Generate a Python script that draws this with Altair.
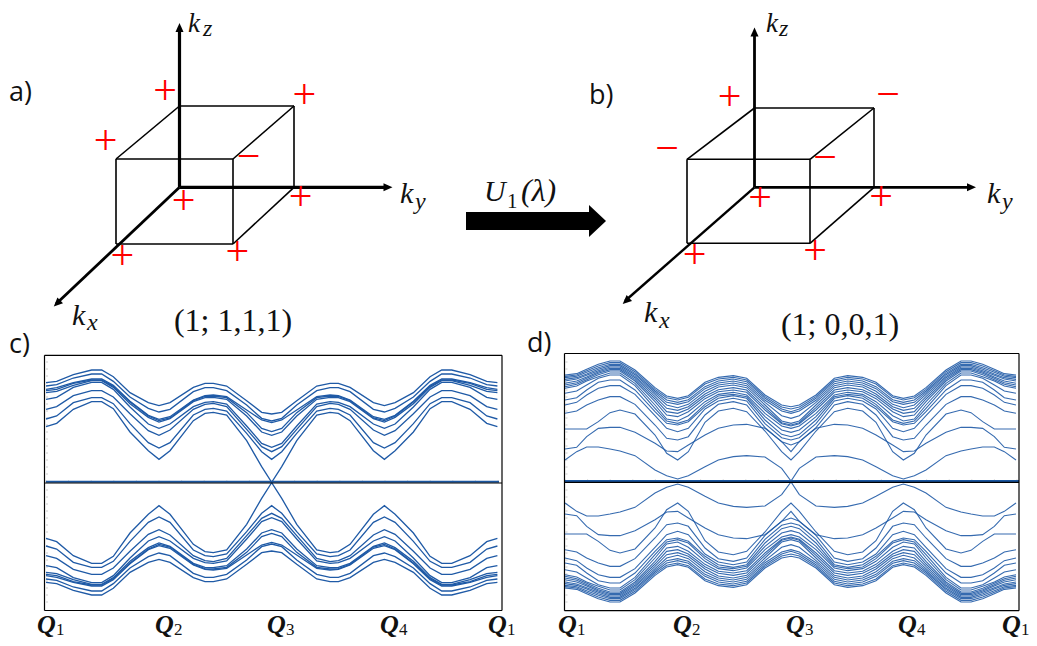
import altair as alt
import pandas as pd

# ---------- band readings, upper half of the path Q1 -> Q3 (crop units, 3 per pixel)
c_nodes = [48,80,130,185,215,250,300,355,387,420,490,525,550,590,650,695,725]
c_bands = [
 [98,94,74,60,60,80,128,158,167,158,112,100,100,108,152,187,192],
 [108,104,84,72,72,94,141,175,186,178,125,113,113,122,165,205,213],
 [118,113,98,87,87,106,154,196,208,200,150,137,135,140,180,210,218],
 [122,118,100,90,90,109,156,198,212,204,152,139,138,143,188,235,245],
 [128,124,106,92,92,112,161,202,216,206,155,143,142,148,198,246,256],
 [148,142,112,97,97,118,171,222,235,222,170,157,155,162,228,280,292],
 [178,170,137,122,122,141,191,242,256,240,178,163,160,170,238,290,305],
 [207,198,158,143,143,161,221,278,294,278,195,178,175,183,250,305,328],
 [230,220,178,155,155,176,246,302,328,302,212,190,187,195,272,350,397],
]
d_nodes = [30,65,95,130,165,195,240,300,335,368,400,450,490,535,575,630,680,708]
d_bands = [
 [90,86,73,58,48,48,75,128,153,160,152,112,97,92,100,150,180,185],
 [94,90,77,63,53,53,80,133,158,165,157,117,102,97,105,155,186,192],
 [98,94,82,68,58,58,85,138,165,172,164,125,108,102,110,160,192,200],
 [103,98,87,73,62,62,89,143,172,178,170,131,114,108,116,166,198,205],
 [108,102,91,77,66,66,94,148,180,188,178,139,120,114,122,172,212,220],
 [115,108,96,81,70,70,98,155,190,196,185,147,126,120,128,180,228,235],
 [120,113,100,85,74,74,103,162,200,205,192,154,134,128,135,188,233,240],
 [125,118,104,89,78,78,108,170,210,215,200,161,140,135,142,195,236,243],
 [130,123,108,95,84,84,115,180,222,228,212,170,148,142,150,205,243,250],
 [145,138,120,100,90,90,122,190,228,235,225,178,153,148,155,215,255,262],
 [165,158,135,112,105,105,135,200,235,240,230,185,160,152,160,225,268,275],
 [180,172,150,130,122,122,148,212,250,260,250,192,168,160,168,236,278,285],
 [205,198,180,165,155,155,178,240,280,285,275,210,178,170,180,248,290,300],
 [252,252,252,230,203,195,207,270,325,345,320,232,198,190,200,258,320,345],
 [312,307,275,250,247,247,262,295,318,320,300,270,250,240,238,250,290,320],
 [345,320,306,306,312,318,332,375,392,402,392,365,345,335,332,336,370,408],
]

# ---------- page coordinates of the schematic
seg_x  = [179.5,179.5,179.5, 116,233,116,116,233,179.5,294,233,116,
          754.5,754.5,754.5, 687,810,687,687,810,754.5,874,810,687]
seg_x2 = [179.5,388,56, 233,233,233,116,294,294,294,294,179.5,
          754.5,972,625, 810,810,810,687,874,874,874,874,754.5]
seg_y  = [187.3,187.3,187.3, 159,159,244,159,244,106,106,159,159,
          187.3,187.3,187.3, 159.3,159.3,243.3,159.3,243.3,108,108,159.3,159.3]
seg_y2 = [30,187.3,304, 159,244,244,244,187.3,106,187.3,106,106,
          34,187.3,301, 159.3,243.3,243.3,243.3,187.3,108,187.3,108,108]
seg_w  = [3.2,3.2,2.8]+[1.6]*9+[2.8,2.8,2.4]+[1.6]*9

head_x = [179.5,388,57, 754.5,971.5,626]
head_y = [27.5,187.3,303.5, 32,187.3,301]
head_a = [0,90,226, 0,90,228]

text_rows = [
 ("a)",9,101,"sans"),("b)",589,104,"sans"),("c)",9,353,"sans"),("d)",527,352,"sans"),
 ("(1; 1,1,1)",233,331,"math"),("(1; 0,0,1)",840,335,"math"),
 ("k",188,32,"itals"),("k",400,203,"ital"),("k",72,325,"ital"),
 ("k",766,32,"itals"),("k",987,203,"ital"),("k",644,322,"ital"),("U",484,201,"ital"),
 ("z",203,36,"sub"),("y",415,209,"sub"),("x",87,330,"sub"),
 ("z",779,36,"sub"),("y",1002,209,"sub"),("x",659,328,"sub"),
 ("1",507,208,"subn"),("(λ)",521,201,"mathl"),
]
q_names = ["Q","Q","Q","Q","Q"]
q_sub = ["1","2","3","4","1"]
q_c_x = [37,155,267,380,488]
q_d_x = [558,673,786,898,1002]
q_base = 632.5

plus_x = [165,304.3,105.7,183.7,300.7,122.3,237.3, 729.5,760,881,694.5,815]
plus_y = [92.7,97,142.7,203,199,257.7,254, 99,200,199,257,253]
minus_x = [248.5, 888,667,825]
minus_y = [159, 97,150.7,160]

frames = [(44.5,502,355.3,610.5),(564.5,1019,353.5,610.7)]
tick_c_x = [46+22.6*i for i in range(21)]
tick_d_x = [565+22.6*i for i in range(21)]
tick_left = [362,369,376,383,390,397,404,411,418,425,432,439,446,453,460,467,474,
             490,497,504,511,518,525,532,539,546,553,560,567,574,581,588,595,602]

INK = "#1f5aa6"
XD = alt.X("x:Q", axis=None, scale=alt.Scale(domain=[8,1029]))
YD = alt.Y("y:Q", axis=None, scale=alt.Scale(domain=[638,8]))

def bands(nodes, rows, x0, center_x, zero_crop, y0, name):
    out = []
    for b, row in enumerate(rows):
        xs = [x0 + n/3 for n in nodes]
        ys = [y0 + v/3 for v in row]
        xs_full = xs + [2*center_x - a for a in xs[-2::-1]]
        ys_full = ys + ys[-2::-1]
        zero = y0 + zero_crop/3
        for sgn in ("u", "l"):
            for i, (a, v) in enumerate(zip(xs_full, ys_full)):
                out.append(dict(x=a, y=v if sgn == "u" else 2*zero - v, i=i, k=f"{name}{b}{sgn}"))
    return pd.DataFrame(out)

df_c = bands(c_nodes, c_bands, 30, 271.7, 397.5, 350, "c")
df_d = bands(d_nodes, d_bands, 555, 790.5, 409.5, 345, "d")

def band_layer(df, w, op):
    return alt.Chart(df).mark_line(color=INK, strokeWidth=w, opacity=op).encode(
        x=XD, y=YD, detail="k:N", order="i:Q")

def rule_layer(x, x2, y, y2, color, w, op=1):
    d = pd.DataFrame(dict(x=x, x2=x2, y=y, y2=y2))
    return alt.Chart(d).mark_rule(color=color, strokeWidth=w, opacity=op).encode(
        x=XD, x2="x2:Q", y=YD, y2="y2:Q")

layers = []
layers.append(rule_layer(tick_c_x, tick_c_x, [480.5]*21, [482]*21, "#999999", 1, .6))
layers.append(rule_layer(tick_d_x, tick_d_x, [479.5]*21, [481]*21, "#999999", 1, .6))
layers.append(rule_layer([46]*len(tick_left), [48]*len(tick_left), tick_left, tick_left, "#aaaaaa", 1, .6))
layers.append(rule_layer([565.5]*len(tick_left), [567.5]*len(tick_left), tick_left, tick_left, "#aaaaaa", 1, .6))

layers.append(band_layer(df_c, 1.3, 1))
layers.append(band_layer(df_d, 1.1, .9))

layers.append(rule_layer([46,565],[499,1019],[481.8,481],[481.8,481], "#1a56a0", 2))
layers.append(rule_layer([44.5,565],[502,1019],[483,482.4],[483,482.4], "#000000", 1.2))

for l, r, t, b in frames:
    layers.append(rule_layer([l,r,l,l],[r,r,r,l],[t,t,b,t],[t,b,b,b], "#000000", 1.2))

d_seg = pd.DataFrame(dict(x=seg_x, x2=seg_x2, y=seg_y, y2=seg_y2, w=seg_w))
layers.append(alt.Chart(d_seg).mark_rule(color="#000000").encode(
    x=XD, x2="x2:Q", y=YD, y2="y2:Q", strokeWidth=alt.StrokeWidth("w:Q", scale=None)))

d_head = pd.DataFrame(dict(x=head_x, y=head_y, a=head_a))
layers.append(alt.Chart(d_head).mark_point(
    shape="M0,-1L0.9,1L-0.9,1Z", filled=True, color="#000000", opacity=1, size=80, strokeWidth=0
).encode(x=XD, y=YD, angle=alt.Angle("a:Q", scale=None)))

layers.append(alt.Chart(pd.DataFrame(dict(x=[466],x2=[590],y=[212],y2=[230]))).mark_rect(color="#000000").encode(
    x=XD, x2="x2:Q", y=YD, y2="y2:Q"))
layers.append(alt.Chart(pd.DataFrame(dict(x=[589,606],y=[205,221],y2=[237,221]))).mark_area(color="#000000").encode(
    x=XD, y=YD, y2="y2:Q"))

layers.append(alt.Chart(pd.DataFrame(dict(x=plus_x,y=plus_y,t=["+"]*len(plus_x)))).mark_text(
    color="#ff0000", font="Liberation Serif", fontSize=42, baseline="middle", align="center", dy=-2).encode(x=XD,y=YD,text="t:N"))
layers.append(alt.Chart(pd.DataFrame(dict(x=minus_x,y=minus_y,t=["−"]*len(minus_x)))).mark_text(
    color="#ff0000", font="Liberation Serif", fontSize=42, baseline="middle", align="center", dy=-2).encode(x=XD,y=YD,text="t:N"))

styles = {
 "sans": dict(font="Open Sans", fontSize=27, color="#111111"),
 "math": dict(font="Liberation Serif", fontSize=32, color="#111111"),
 "mathl": dict(font="Liberation Serif", fontSize=32, fontStyle="italic", color="#111111"),
 "ital": dict(font="Liberation Serif", fontSize=30, fontStyle="italic", color="#111111"),
 "itals": dict(font="Liberation Serif", fontSize=27, fontStyle="italic", color="#111111"),
 "sub": dict(font="Liberation Serif", fontSize=24, fontStyle="italic", color="#111111"),
 "subn": dict(font="Liberation Serif", fontSize=21, color="#111111"),
}
tdf = pd.DataFrame(text_rows, columns=["t","x","y","g"])
for g, st in styles.items():
    sub = tdf[tdf.g == g]
    align = "center" if g == "math" else "left"
    layers.append(alt.Chart(sub).mark_text(baseline="alphabetic", align=align, **st).encode(x=XD,y=YD,text="t:N"))

q_x = q_c_x + q_d_x
qdf = pd.DataFrame(dict(x=q_x, y=[q_base]*10, t=q_names*2))
layers.append(alt.Chart(qdf).mark_text(baseline="alphabetic", align="left", font="Liberation Serif",
    fontSize=26, fontStyle="italic", fontWeight="bold", color="#111111").encode(x=XD,y=YD,text="t:N"))
qsdf = pd.DataFrame(dict(x=[a+19 for a in q_x], y=[q_base+2.5]*10, t=q_sub*2))
layers.append(alt.Chart(qsdf).mark_text(baseline="alphabetic", align="left", font="Liberation Serif",
    fontSize=17, color="#111111").encode(x=XD,y=YD,text="t:N"))

chart = alt.layer(*layers).properties(
    width=1021, height=630, padding=0, background="#ffffff",
    autosize=alt.AutoSizeParams(type="none")
).configure_view(stroke=None)

chart.save("out.html", embed_options={"renderer": "svg", "actions": False})
